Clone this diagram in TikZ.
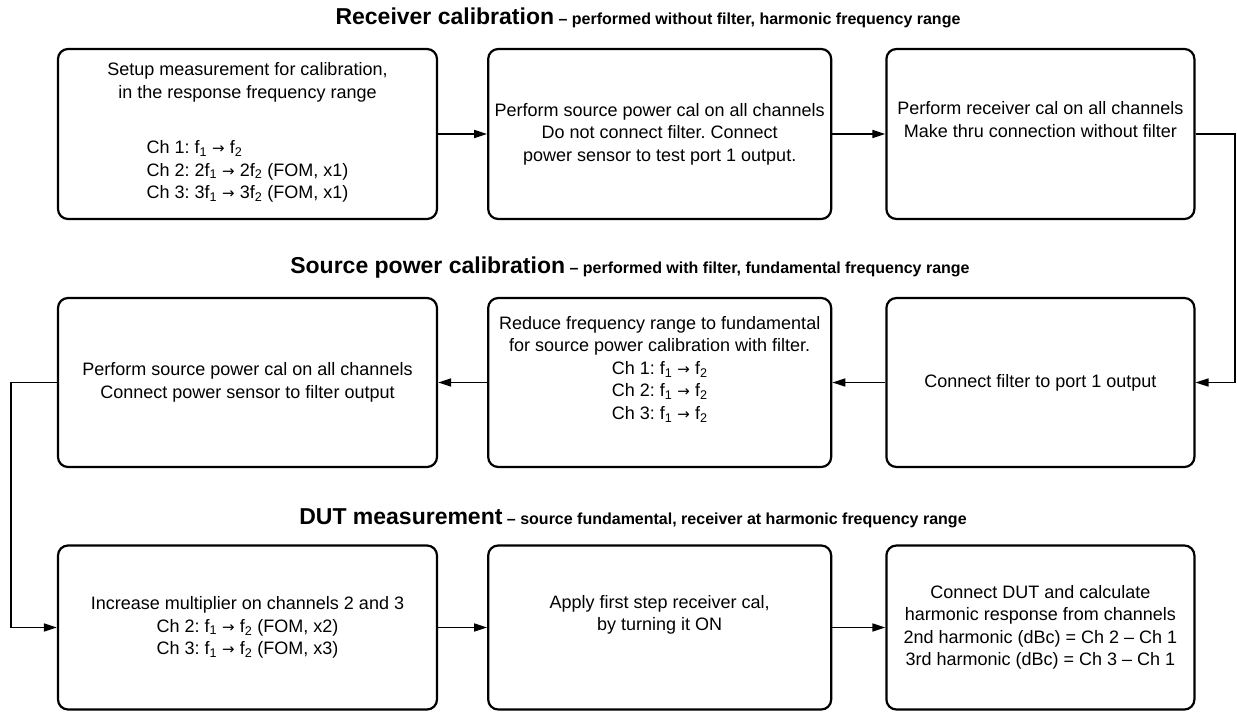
\documentclass[tikz,border=0pt]{standalone}
\usepackage{fontspec}
\setmainfont{Liberation Sans}
\newfontfamily\arrowfont{DejaVu Sans}
\frenchspacing
\usetikzlibrary{positioning, arrows.meta}
\tikzstyle{stepbox} = [rectangle, rounded corners=10pt, minimum height=170pt, inner sep=0pt, text centered, align=center, draw=black, line width=2.2pt, font=\fontsize{18}{22.5}\selectfont]
\tikzstyle{title} = [font=\fontsize{23}{27}\selectfont\bfseries]
\tikzstyle{arrow} = [line width=1.6pt, -{Triangle[length=13pt,width=8pt]}]
\newcommand{\fone}{f\textsubscript{1}}
\newcommand{\ftwo}{f\textsubscript{2}}
\newcommand{\toarrow}{{\arrowfont\fontsize{15}{18}\selectfont →}}
\newcommand{\subtitle}[1]{\fontsize{16}{19}\selectfont\ \textendash\ #1}

\begin{document}
\begin{tikzpicture}[x=1pt, y=-1pt, node distance=49pt]
\useasboundingbox (0,0) rectangle (1237,712);

% receiver calibration
\node (rcvtitle) [title] at (648,18) {Receiver calibration\subtitle{performed without filter, harmonic frequency range}};
\node (setup) [stepbox, minimum width=379pt] at (247.5,134) {Setup measurement for calibration,\\in the response frequency range\\[33pt]
  \begin{tabular}[t]{@{}l@{}}Ch 1: \fone{} \toarrow{} \ftwo\\Ch 2: 2\fone{} \toarrow{} 2\ftwo{} (FOM, x1)\\Ch 3: 3\fone{} \toarrow{} 3\ftwo{} (FOM, x1)\end{tabular}};
\node (srccal) [stepbox, minimum width=343pt, right=49pt of setup] {Perform source power cal on all channels\\Do not connect filter. Connect\\power sensor to test port 1 output.};
\node (rcvcal) [stepbox, minimum width=308pt, right=53pt of srccal] {Perform receiver cal on all channels\\Make thru connection without filter\\\strut};

% source power calibration
\node (srctitle) [title] at (630,268) {Source power calibration\subtitle{performed with filter, fundamental frequency range}};
\node (srcfilt) [stepbox, minimum width=379pt, minimum height=169pt] at (247.5,382.5) {Perform source power cal on all channels\\Connect power sensor to filter output};
\node (reduce) [stepbox, minimum width=343pt, minimum height=169pt, right=49pt of srcfilt] {Reduce frequency range to fundamental\\for source power calibration with filter.\\Ch 1: \fone{} \toarrow{} \ftwo\\Ch 2: \fone{} \toarrow{} \ftwo\\Ch 3: \fone{} \toarrow{} \ftwo\\\strut};
\node (connfilt) [stepbox, minimum width=308pt, minimum height=169pt, right=53pt of reduce] {Connect filter to port 1 output};

% DUT measurement
\node (duttitle) [title] at (633,518) {DUT measurement\subtitle{source fundamental, receiver at harmonic frequency range}};
\node (increase) [stepbox, minimum width=379pt, minimum height=164pt] at (247.5,627.5) {Increase multiplier on channels 2 and 3\\Ch 2: \fone{} \toarrow{} \ftwo{} (FOM, x2)\\Ch 3: \fone{} \toarrow{} \ftwo{} (FOM, x3)};
\node (apply) [stepbox, minimum width=343pt, minimum height=164pt, right=49pt of increase] {Apply first step receiver cal,\\by turning it ON\\\strut};
\node (calc) [stepbox, minimum width=308pt, minimum height=164pt, right=53pt of apply] {Connect DUT and calculate\\harmonic response from channels\\2nd harmonic (dBc) = Ch 2 \textendash{} Ch 1\\3rd harmonic (dBc) = Ch 3 \textendash{} Ch 1};

\coordinate (rturn) at (1235,134);
\coordinate (lturn) at (11,382.5);

\draw [arrow] (setup) -- (srccal);
\draw [arrow] (srccal) -- (rcvcal);
\draw [arrow] (rcvcal.east) -- (rturn) |- (connfilt.east);
\draw [arrow] (connfilt) -- (reduce);
\draw [arrow] (reduce) -- (srcfilt);
\draw [arrow] (srcfilt.west) -- (lturn) |- (increase.west);
\draw [arrow] (increase) -- (apply);
\draw [arrow] (apply) -- (calc);

\end{tikzpicture}
\end{document}
